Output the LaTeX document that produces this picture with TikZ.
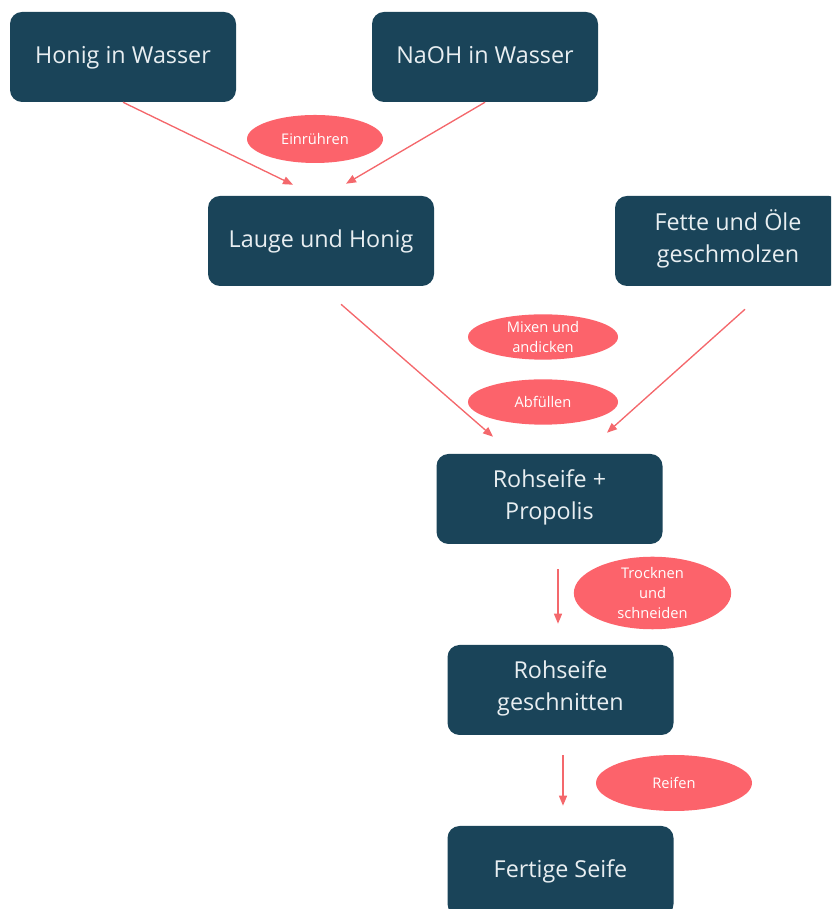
\documentclass[tikz,border=0pt]{standalone}
\usepackage{fontspec}
\setmainfont{Open Sans}
\usepackage{tikz}
\usetikzlibrary{arrows.meta, shapes.geometric}
\definecolor{boxblue}{HTML}{1A4459}
\definecolor{boxtext}{HTML}{E8EEF1}
\definecolor{tagred}{HTML}{FC636B}
\definecolor{arrowred}{HTML}{F4686C}

\begin{document}
\begin{tikzpicture}[
    x=0.75pt, y=0.75pt,
    stepbox/.style={rectangle, fill=boxblue, text=boxtext, rounded corners=9pt, minimum width=169.5pt, minimum height=67.5pt, align=center, font=\fontsize{17.5}{24}\selectfont, execute at end node=\strut},
    tag/.style={ellipse, fill=tagred, text=white, inner sep=0pt, align=center, font=\fontsize{11}{15}\selectfont},
    flow/.style={-{Triangle[length=7.5pt, width=6pt]}, draw=arrowred, fill=arrowred, line width=1pt}
]
    \useasboundingbox (0,0) rectangle (831,909);
    \clip (0,0) rectangle (831,909);

    % Ausgangsstoffe
    \node[stepbox] (honig) at (123,852) {Honig in Wasser};
    \node[stepbox] (naoh) at (485,852) {NaOH in Wasser};

    % Zwischenstufen
    \node[stepbox] (lauge) at (321,668) {Lauge und Honig};
    \node[stepbox] (fette) at (728,668) {Fette und Öle\\geschmolzen};
    \node[stepbox] (rohseife) at (549.5,410) {Rohseife +\\Propolis};
    \node[stepbox] (geschnitten) at (560.5,219) {Rohseife\\geschnitten};

    % Ergebnis
    \node[stepbox] (fertig) at (560.5,38) {Fertige Seife};

    % Arbeitsschritte
    \node[tag, minimum width=102pt, minimum height=36pt] (einruehren) at (315,770) {Einrühren};
    \node[tag, minimum width=112.5pt, minimum height=34pt] (mixen) at (543,572) {Mixen und\\andicken};
    \node[tag, minimum width=112.5pt, minimum height=34pt] (abfuellen) at (543,507) {Abfüllen};
    \node[tag, minimum width=118pt, minimum height=49.5pt] (trocknen) at (652.5,316) {Trocknen\\und\\schneiden};
    \node[tag, minimum width=117pt, minimum height=42pt] (reifen) at (674,126) {Reifen};

    % Pfeile
    \draw[flow] (honig.south) -- ([shift={(-28,11)}]lauge.north);
    \draw[flow] (naoh.south) -- ([shift={(25,12)}]lauge.north);
    \draw[flow] ([shift={(20,-18)}]lauge.south) -- ([shift={(-56.5,17)}]rohseife.north);
    \draw[flow] ([shift={(17,-23)}]fette.south) -- ([shift={(57.5,21)}]rohseife.north);
    \draw[flow] ([shift={(8.5,-25)}]rohseife.south) -- ([shift={(-2.5,21)}]geschnitten.north);
    \draw[flow] ([shift={(2.5,-20)}]geschnitten.south) -- ([shift={(2.5,20)}]fertig.north);
\end{tikzpicture}
\end{document}
